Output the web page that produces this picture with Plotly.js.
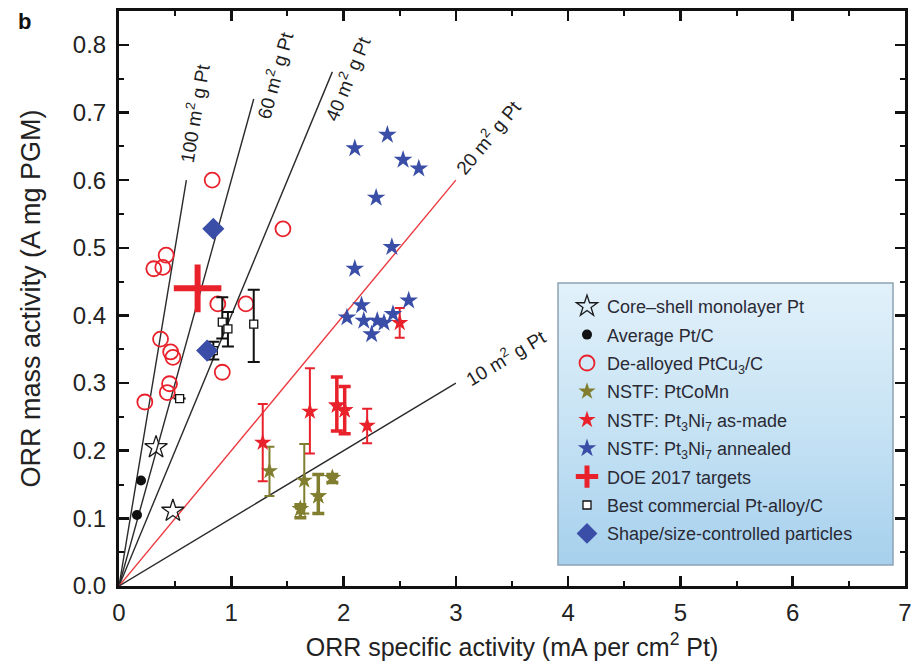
<!DOCTYPE html>
<html>
<head>
<meta charset="utf-8">
<script src="https://cdn.plot.ly/plotly-3.0.1.min.js"></script>
<style>html,body{margin:0;padding:0;background:#fff;}#chart{width:911px;height:665px;}</style>
</head>
<body>
<div id="chart"></div>
<script>
// ---------- data ----------
const coreShellX = [0.33, 0.48];
const coreShellY = [0.205, 0.111];

const avgPtCX = [0.196, 0.16];
const avgPtCY = [0.156, 0.105];

const dealloyedX = [0.83, 1.46, 0.31, 0.39, 0.42, 0.88, 1.13, 0.37, 0.46, 0.48, 0.92, 0.45, 0.43, 0.23];
const dealloyedY = [0.600, 0.528, 0.469, 0.471, 0.489, 0.417, 0.417, 0.365, 0.346, 0.338, 0.316, 0.299, 0.286, 0.272];

const coMnX    = [1.34, 1.65, 1.615, 1.775, 1.90];
const coMnY    = [0.170, 0.156, 0.114, 0.133, 0.160];
const coMnUp   = [0.036, 0.054, 0.006, 0.032, 0.005];
const coMnDown = [0.037, 0.049, 0.013, 0.026, 0.007];

const asMadeX    = [1.28, 1.70, 1.94, 2.01, 2.21, 2.50];
const asMadeY    = [0.212, 0.258, 0.267, 0.260, 0.237, 0.389];
const asMadeUp   = [0.057, 0.064, 0.042, 0.035, 0.025, 0.022];
const asMadeDown = [0.057, 0.062, 0.038, 0.035, 0.026, 0.022];

const annealedX = [2.39, 2.10, 2.53, 2.67, 2.29, 2.43, 2.10, 2.58, 2.16, 2.03, 2.18, 2.30, 2.36, 2.44, 2.25];
const annealedY = [0.667, 0.647, 0.630, 0.617, 0.574, 0.501, 0.469, 0.422, 0.415, 0.397, 0.392, 0.392, 0.389, 0.402, 0.372];

const doeX = [0.70];
const doeY = [0.44];

const commercialX    = [0.92, 0.97, 1.20, 0.54, 0.84];
const commercialY    = [0.390, 0.380, 0.387, 0.277, 0.348];
const commercialUp   = [0.037, 0.025, 0.051, 0, 0.013];
const commercialDown = [0.024, 0.026, 0.056, 0, 0.013];

const shapeX = [0.84, 0.785];
const shapeY = [0.528, 0.348];

// constant-ECSA reference lines (m2 g-1 Pt), drawn from the origin
const ecsaLabels = ['100', '60', '40', '20', '10'];
const ecsaEndX   = [0.6, 1.2, 1.9, 3.0, 3.0];
const ecsaEndY   = [0.6, 0.72, 0.76, 0.6, 0.3];
const ecsaLabelX = [0.668, 1.38, 2.03, 3.28, 3.44];
const ecsaLabelY = [0.699, 0.756, 0.751, 0.664, 0.338];

const xTickVals = [0, 1, 2, 3, 4, 5, 6, 7];
const yTickVals = [0, 0.1, 0.2, 0.3, 0.4, 0.5, 0.6, 0.7, 0.8];

// ---------- styling ----------
const RED = '#e8212b', BLUE = '#3a4ea7', OLIVE = '#817e2f';
const FONT = 'Liberation Sans, Arial, Helvetica, sans-serif';
const W = 911, H = 665, ML = 119, MR = 6, MT = 11, MB = 79;
const XR = [0, 7], YR = [0, 0.85];
const pxPerX = (W - ML - MR) / (XR[1] - XR[0]);
const pxPerY = (H - MT - MB) / (YR[1] - YR[0]);

const traces = [];
// ECSA lines
ecsaLabels.forEach((lab, i) => {
  traces.push({
    x: [0, ecsaEndX[i]], y: [0, ecsaEndY[i]], mode: 'lines', type: 'scatter',
    line: {color: lab === '20' ? '#ec3a40' : '#2a2a2a', width: 1.4},
    showlegend: false, hoverinfo: 'skip'
  });
});

function sub(arr, idx) { return idx.map(i => arr[i]); }

traces.push({
  name: 'Core\u2013shell monolayer Pt', legendgroup: 'a',
  x: coreShellX, y: coreShellY, mode: 'markers', type: 'scatter',
  marker: {symbol: 'star-open', size: 17, color: '#1a1a1a', line: {width: 1.3, color: '#1a1a1a'}}
});
traces.push({
  name: 'Average Pt/C', legendgroup: 'b',
  x: avgPtCX, y: avgPtCY, mode: 'markers', type: 'scatter',
  marker: {symbol: 'circle', size: 10, color: '#111'}
});
traces.push({
  name: 'De-alloyed PtCu<sub>3</sub>/C', legendgroup: 'c',
  x: dealloyedX, y: dealloyedY, mode: 'markers', type: 'scatter',
  marker: {symbol: 'circle-open', size: 15, color: RED, line: {width: 1.8, color: RED}}
});
// PtCoMn: thin bars, then thick bars
const coThin = [0, 1], coThick = [2, 3, 4];
traces.push({
  name: 'NSTF: PtCoMn', legendgroup: 'd',
  x: coMnX, y: coMnY, mode: 'markers', type: 'scatter',
  marker: {symbol: 'star', size: 13, color: OLIVE},
  error_y: {type: 'data', symmetric: false, array: coMnUp.map((v, i) => coThin.includes(i) ? v : 0),
            arrayminus: coMnDown.map((v, i) => coThin.includes(i) ? v : 0), color: OLIVE, thickness: 2, width: 5}
});
traces.push({
  showlegend: false, legendgroup: 'd',
  x: sub(coMnX, coThick), y: sub(coMnY, coThick), mode: 'markers', type: 'scatter',
  marker: {symbol: 'star', size: 13, color: OLIVE},
  error_y: {type: 'data', symmetric: false, array: sub(coMnUp, coThick), arrayminus: sub(coMnDown, coThick),
            color: OLIVE, thickness: 3.5, width: 6}
});
const amThin = [0, 1, 4, 5], amThick = [2, 3];
traces.push({
  name: 'NSTF: Pt<sub>3</sub>Ni<sub>7</sub> as-made', legendgroup: 'e',
  x: asMadeX, y: asMadeY, mode: 'markers', type: 'scatter',
  marker: {symbol: 'star', size: 13, color: RED},
  error_y: {type: 'data', symmetric: false, array: asMadeUp.map((v, i) => amThin.includes(i) ? v : 0),
            arrayminus: asMadeDown.map((v, i) => amThin.includes(i) ? v : 0), color: RED, thickness: 2, width: 5}
});
traces.push({
  showlegend: false, legendgroup: 'e',
  x: sub(asMadeX, amThick), y: sub(asMadeY, amThick), mode: 'markers', type: 'scatter',
  marker: {symbol: 'star', size: 13, color: RED},
  error_y: {type: 'data', symmetric: false, array: sub(asMadeUp, amThick), arrayminus: sub(asMadeDown, amThick),
            color: RED, thickness: 3.5, width: 6}
});
traces.push({
  name: 'NSTF: Pt<sub>3</sub>Ni<sub>7</sub> annealed', legendgroup: 'f',
  x: annealedX, y: annealedY, mode: 'markers', type: 'scatter',
  marker: {symbol: 'star', size: 14, color: BLUE}
});
traces.push({
  name: 'DOE 2017 targets', legendgroup: 'g',
  x: doeX, y: doeY, mode: 'markers', type: 'scatter',
  marker: {symbol: 'cross-thin', size: 34, color: RED, line: {width: 6, color: RED}}
});
traces.push({
  name: 'Best commercial Pt-alloy/C', legendgroup: 'h',
  x: commercialX, y: commercialY, mode: 'markers', type: 'scatter',
  marker: {symbol: 'square', size: 8, color: '#fff', line: {width: 1.3, color: '#111'}},
  error_y: {type: 'data', symmetric: false, array: commercialUp, arrayminus: commercialDown,
            color: '#111', thickness: 2, width: 6}
});
traces.push({
  name: 'Shape/size-controlled particles', legendgroup: 'i',
  x: shapeX, y: shapeY, mode: 'markers', type: 'scatter',
  marker: {symbol: 'diamond', size: 17, color: BLUE}
});

// line labels along the ECSA lines
const annotations = ecsaLabels.map((lab, i) => ({
  x: ecsaLabelX[i], y: ecsaLabelY[i], xref: 'x', yref: 'y', showarrow: false,
  text: lab + ' m<sup>2</sup> g Pt',
  textangle: -Math.atan((ecsaEndY[i] / ecsaEndX[i]) * pxPerY / pxPerX) * 180 / Math.PI,
  font: {family: FONT, size: 19, color: '#1e1e1e'}
}));

const toPX = px => (px - ML) / (W - ML - MR);
const toPY = py => (H - MB - py) / (H - MT - MB);
annotations.push({
  x: toPX(16), y: toPY(22), xref: 'paper', yref: 'paper', xanchor: 'left', yanchor: 'middle',
  text: '<b>b</b>', showarrow: false, font: {family: FONT, size: 22, color: '#111'}
});

// legend box (gradient)
const LX0 = 558, LX1 = 893, LY0 = 283, LY1 = 565;
const svg = "<svg xmlns='http://www.w3.org/2000/svg' width='335' height='282' preserveAspectRatio='none'>" +
  "<defs><linearGradient id='g' x1='0' y1='0' x2='0' y2='1'>" +
  "<stop offset='0' stop-color='#e2f1fa'/><stop offset='0.5' stop-color='#c7e3f4'/><stop offset='1' stop-color='#a6d0ed'/>" +
  "</linearGradient></defs><rect width='335' height='282' fill='url(#g)'/></svg>";

const layout = {
  width: W, height: H,
  margin: {l: ML, r: MR, t: MT, b: MB},
  paper_bgcolor: '#fff', plot_bgcolor: '#fff',
  font: {family: FONT, color: '#222'},
  showlegend: true,
  xaxis: {
    range: XR, tickvals: xTickVals, ticktext: xTickVals.map(String),
    ticks: 'inside', ticklen: 10, tickwidth: 2.5, tickcolor: '#111',
    showline: true, linewidth: 3, linecolor: '#111', mirror: 'ticks',
    showgrid: false, zeroline: false, ticklabeloverflow: 'allow',
    minor: {dtick: 0.5, ticks: 'inside', ticklen: 5, tickwidth: 2, tickcolor: '#111', showgrid: false},
    tickfont: {family: FONT, size: 24, color: '#222'}, ticklabelstandoff: 3,
    title: {text: 'ORR specific activity (mA per cm<sup>2</sup> Pt)', font: {family: FONT, size: 25, color: '#222'}, standoff: 14}
  },
  yaxis: {
    range: YR, tickvals: yTickVals, ticktext: yTickVals.map(v => v.toFixed(1)),
    ticks: 'inside', ticklen: 10, tickwidth: 2.5, tickcolor: '#111',
    showline: true, linewidth: 3, linecolor: '#111', mirror: 'ticks',
    showgrid: false, zeroline: false, ticklabeloverflow: 'allow',
    minor: {dtick: 0.05, ticks: 'inside', ticklen: 5, tickwidth: 2, tickcolor: '#111', showgrid: false},
    tickfont: {family: FONT, size: 24, color: '#222'}, ticklabelstandoff: 5,
    title: {text: 'ORR mass activity (A mg PGM)', font: {family: FONT, size: 27, color: '#222'}, standoff: 25}
  },
  legend: {
    x: toPX(567), y: toPY(288), xanchor: 'left', yanchor: 'top',
    bgcolor: 'rgba(0,0,0,0)', borderwidth: 0,
    font: {family: FONT, size: 18, color: '#2a2a35'},
    traceorder: 'grouped', tracegroupgap: 2
  },
  images: [{
    source: 'data:image/svg+xml;charset=utf-8,' + encodeURIComponent(svg),
    xref: 'paper', yref: 'paper', x: toPX(LX0), y: toPY(LY0),
    sizex: toPX(LX1) - toPX(LX0), sizey: toPY(LY0) - toPY(LY1),
    sizing: 'stretch', xanchor: 'left', yanchor: 'top', layer: 'above'
  }],
  shapes: [{
    type: 'rect', xref: 'paper', yref: 'paper', layer: 'above',
    x0: toPX(LX0), x1: toPX(LX1), y0: toPY(LY1), y1: toPY(LY0),
    line: {color: '#8da3b3', width: 1.5}, fillcolor: 'rgba(0,0,0,0)'
  }],
  annotations: annotations
};

Plotly.newPlot('chart', traces, layout, {displayModeBar: false, staticPlot: true});
</script>
</body>
</html>
